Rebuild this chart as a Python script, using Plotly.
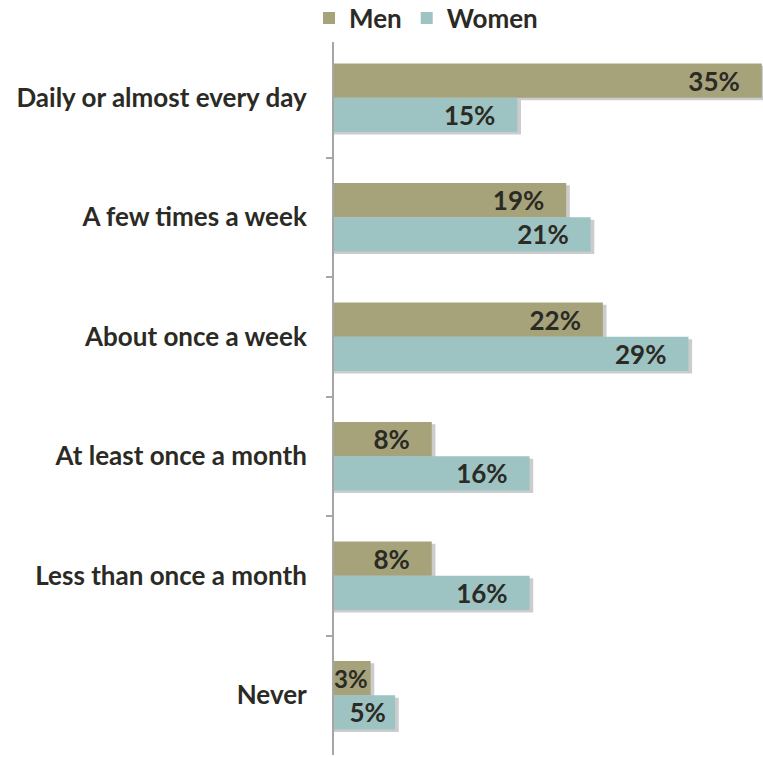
import plotly.graph_objects as go

categories = ["Daily or almost every day", "A few times a week", "About once a week",
              "At least once a month", "Less than once a month", "Never"]
men = [35, 19, 22, 8, 8, 3]
women = [15, 21, 29, 16, 16, 5]

FONT = "Lato, sans-serif"
DARK = "#2b2a24"
MEN_C = "#a6a37b"
WOMEN_C = "#9dc3c3"
BAR_W = 0.287
SHADOW = "rgba(0,0,0,0.2)"


def label(v):
    pad = "\u00a0\u00a0\u00a0" if v >= 8 else ("\u00a0" if v >= 5 else "")
    return f"{v}%{pad}"


fig = go.Figure()
for name, vals, col, off in [("Men", men, MEN_C, -BAR_W), ("Women", women, WOMEN_C, 0.0)]:
    # soft drop shadow behind each bar
    fig.add_trace(go.Bar(
        y=categories, x=[v + 0.3 for v in vals], orientation="h",
        offset=off + 0.02, width=BAR_W, marker=dict(color=SHADOW, line=dict(width=0)),
        showlegend=False, hoverinfo="skip",
    ))
    fig.add_trace(go.Bar(
        y=categories, x=vals, name=name, orientation="h",
        offset=off, width=BAR_W,
        marker=dict(color=col, line=dict(width=0)),
        text=[label(v) for v in vals],
        textposition="inside", insidetextanchor="end", constraintext="none",
        textfont=dict(family=FONT, size=[26 if v >= 5 else 24 for v in vals],
                      color=DARK, weight="bold"),
        hoverinfo="x+y", cliponaxis=False,
    ))

fig.update_layout(
    width=763, height=757,
    margin=dict(l=334, r=0, t=38, b=2, autoexpand=False),
    paper_bgcolor="white", plot_bgcolor="white",
    barmode="overlay",
    font=dict(family=FONT, color=DARK),
    legend=dict(orientation="h", xref="container", yref="container",
                x=0.405, y=0.976, xanchor="left", yanchor="middle",
                font=dict(family=FONT, size=26, color=DARK, weight="bold"),
                traceorder="normal", itemwidth=30, tracegroupgap=0),
    showlegend=True,
)
fig.update_xaxes(range=[0, 35.1], visible=False, showgrid=False, zeroline=False)
fig.update_yaxes(
    autorange="reversed", type="category", showline=True, linecolor="#a6a6a6", linewidth=2,
    ticks="outside", tickson="boundaries", ticklen=6, tickcolor="#a6a6a6", tickwidth=2,
    tickfont=dict(family=FONT, size=26, color=DARK, weight="bold"), ticklabelstandoff=20,
    showgrid=False, zeroline=False, automargin=False,
)
post = ("document.body.style.margin='0';"
        "document.documentElement.style.overflow='hidden';"
        "Plotly.relayout('{plot_id}', {width: 763, height: 757});")
fig.write_html("out.html", post_script=post, config={"displayModeBar": False})
